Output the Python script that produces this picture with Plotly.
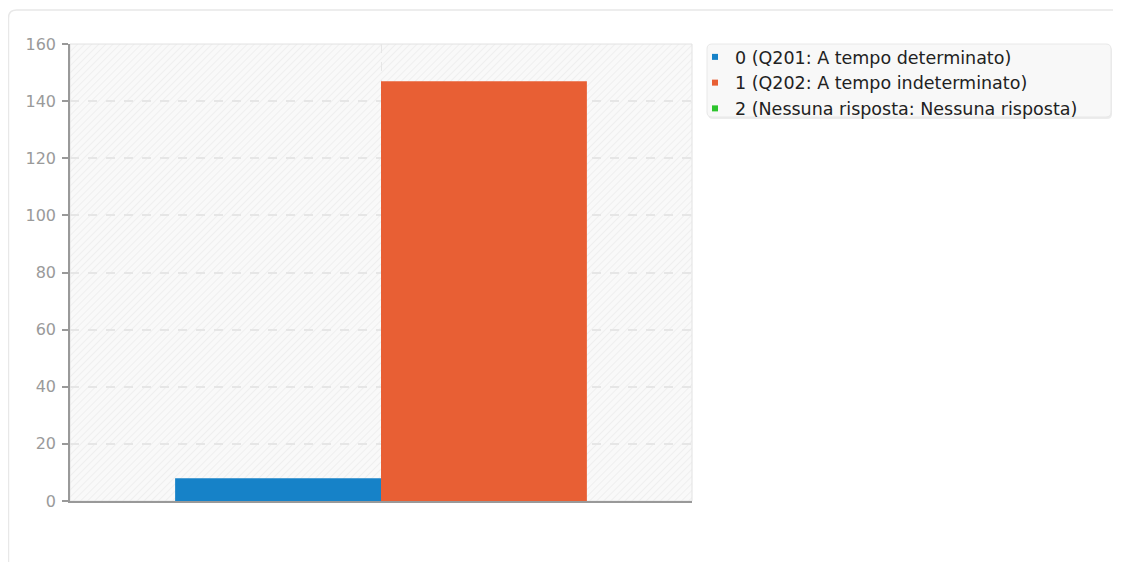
import base64
import plotly.graph_objects as go

# data
categories = ["Risposte"]
series_names = ["0 (Q201: A tempo determinato)",
                "1 (Q202: A tempo indeterminato)",
                "2 (Nessuna risposta: Nessuna risposta)"]
series_values = [[8], [147], []]
series_colors = ["#1682c8", "#e85f34", "#2dc42d"]
y_ticks = [0, 20, 40, 60, 80, 100, 120, 140, 160]

# page body has an 8px margin, so work in figure coords = page - 8
W, H = 1105, 554
L, R, T, B = 62, 684, 36, 493          # plot area in figure pixels
pw, ph = R - L, B - T

# hatched plot background as an inline svg
svg = ('<svg xmlns="http://www.w3.org/2000/svg" width="%d" height="%d">'
       '<defs><pattern id="h" width="5" height="5" patternUnits="userSpaceOnUse" '
       'patternTransform="rotate(45)"><rect width="5" height="5" fill="#f9f9f9"/>'
       '<line x1="0" y1="0" x2="0" y2="5" stroke="#efefef" stroke-width="2"/></pattern></defs>'
       '<rect width="100%%" height="100%%" fill="url(#h)"/></svg>') % (pw, ph)
hatch = "data:image/svg+xml;base64," + base64.b64encode(svg.encode()).decode()

bar_w = 0.331
offsets = [-bar_w, 0.0, bar_w]

fig = go.Figure()
for name, vals, col, off in zip(series_names, series_values, series_colors, offsets):
    if vals:
        fig.add_trace(go.Bar(x=categories[:len(vals)], y=vals, name=name,
                             marker=dict(color=col, line=dict(width=0)),
                             width=bar_w, offset=off, showlegend=False))
    # small square legend key
    fig.add_trace(go.Scatter(x=[None], y=[None], mode="markers", name=name,
                             marker=dict(symbol="square", size=6, color=col)))


def px_x(p):
    return (p - L) / pw


def px_y(p):
    return (B - p) / ph


def rounded_box(x0, y0, x1, y1, r):
    # rounded rectangle path in paper coords from figure pixels
    pts = [("M", x0 + r, y0), ("L", x1 - r, y0), ("Q", x1, y0, x1, y0 + r),
           ("L", x1, y1 - r), ("Q", x1, y1, x1 - r, y1), ("L", x0 + r, y1),
           ("Q", x0, y1, x0, y1 - r), ("L", x0, y0 + r), ("Q", x0, y0, x0 + r, y0)]
    out = []
    for p in pts:
        cmd, vals = p[0], p[1:]
        coords = []
        for i in range(0, len(vals), 2):
            coords.append("%f,%f" % (px_x(vals[i]), px_y(vals[i + 1])))
        out.append(cmd + " " + " ".join(coords))
    return " ".join(out) + " Z"


# outer rounded frame (open on right / bottom, runs off the page)
x0, y0, r = 0.5, 2, 8
frame = "M %f,%f L %f,%f Q %f,%f %f,%f L %f,%f" % (
    px_x(x0), px_y(H + 20), px_x(x0), px_y(y0 + r), px_x(x0), px_y(y0),
    px_x(x0 + r), px_y(y0), px_x(W + 20), px_y(y0))

fig.update_layout(
    width=W, height=H,
    margin=dict(l=L, r=W - R, t=T, b=H - B, autoexpand=False),
    paper_bgcolor="white",
    plot_bgcolor="rgba(0,0,0,0)",
    barmode="overlay",
    font=dict(family="DejaVu Sans", size=16, color="#9a9a9a"),
    showlegend=True,
    legend=dict(x=px_x(687), y=px_y(31), xanchor="left", yanchor="top",
                bgcolor="rgba(0,0,0,0)", borderwidth=0,
                font=dict(family="DejaVu Sans", size=17.5, color="#222222"),
                itemwidth=30, tracegroupgap=0),
    images=[dict(source=hatch, xref="paper", yref="paper", x=0, y=1,
                 sizex=1, sizey=1, sizing="stretch", layer="below",
                 xanchor="left", yanchor="top")],
    shapes=[
        dict(type="rect", xref="paper", yref="paper", x0=0, y0=0, x1=1, y1=1,
             line=dict(color="#e2e2e2", width=1), layer="below"),
        dict(type="path", xref="paper", yref="paper", path=frame,
             line=dict(color="#e8e8e8", width=1.5), layer="below"),
        # legend box: soft shadow then the box itself
        dict(type="path", xref="paper", yref="paper",
             path=rounded_box(700, 38, 1104, 111, 5),
             fillcolor="#ececec", line=dict(width=0), layer="below"),
        dict(type="path", xref="paper", yref="paper",
             path=rounded_box(699, 36, 1103, 109, 5),
             fillcolor="#f8f8f8", line=dict(color="#e8e8e8", width=1), layer="below"),
    ],
    xaxis=dict(type="category", range=[-0.5, 0.5], showticklabels=False,
               showgrid=True, gridcolor="#e6e6e6", griddash="dash", gridwidth=1,
               showline=True, linecolor="#999999", linewidth=1.5,
               ticks="", zeroline=False, fixedrange=True),
    yaxis=dict(range=[0, 160], tickvals=y_ticks, showgrid=True,
               gridcolor="#e6e6e6", griddash="dash", gridwidth=1.5,
               showline=True, linecolor="#999999", linewidth=1.5,
               ticks="outside", ticklen=6, tickcolor="#999999", tickwidth=1.5,
               ticklabelstandoff=3, zeroline=False, fixedrange=True),
)

fig.write_html("out.html")
